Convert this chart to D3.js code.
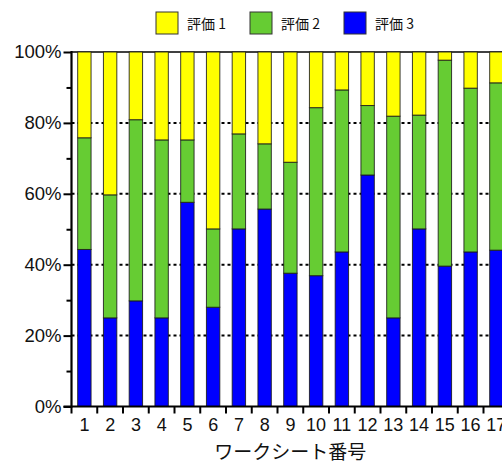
<!DOCTYPE html>
<html>
<head>
<meta charset="utf-8">
<script src="https://cdn.jsdelivr.net/npm/d3@7"></script>
<style>
  html, body { margin: 0; padding: 0; background: #fff; }
  svg { display: block; }
  text { font-family: "Liberation Sans", Arial, "Noto Sans CJK JP", sans-serif; fill: #111; }
  .jp { font-family: "Noto Sans CJK JP", "Liberation Sans", sans-serif; }
</style>
</head>
<body>
<svg id="chart" width="502" height="463"></svg>
<script>
// Worksheet numbers and the share (%) of each rating
const categories = ["1","2","3","4","5","6","7","8","9","10","11","12","13","14","15","16","17"];
const rating1 = [24.2, 40.3, 19.1, 24.8, 24.8, 49.9, 23.1, 25.9, 31.1, 15.7, 10.7, 15.1, 18.1, 17.8, 2.3, 10.2, 8.7];
const rating2 = [31.5, 34.7, 51.1, 50.2, 17.6, 22.1, 26.8, 18.4, 31.3, 47.4, 45.7, 19.6, 56.9, 32.1, 58.1, 46.2, 47.2];
const rating3 = [44.3, 25.0, 29.8, 25.0, 57.6, 28.0, 50.1, 55.7, 37.6, 36.9, 43.6, 65.3, 25.0, 50.1, 39.6, 43.6, 44.1];
const seriesNames = ["評価 1", "評価 2", "評価 3"];
const yTicks = [0, 20, 40, 60, 80, 100];
const yMinorTicks = [10, 30, 50, 70, 90];
const xTitle = "ワークシート番号";

const colors = { "評価 1": "#ffff00", "評価 2": "#66cc33", "評価 3": "#0000ff" };

const svg = d3.select("#chart");
const plotLeft = 71.5, plotTop = 52, plotBottom = 406.5, step = 25.75;

const rows = categories.map((c, i) => ({
  cat: c,
  "評価 1": rating1[i],
  "評価 2": rating2[i],
  "評価 3": rating3[i]
}));

const x = d3.scaleBand()
  .domain(categories)
  .range([plotLeft, plotLeft + categories.length * step])
  .paddingInner(0.48)
  .paddingOuter(0.24);

const y = d3.scaleLinear().domain([0, 100]).range([plotBottom, plotTop]);

// dotted gridlines
svg.append("g")
  .selectAll("line")
  .data([20, 40, 60, 80])
  .join("line")
  .attr("x1", plotLeft).attr("x2", 502)
  .attr("y1", d => y(d)).attr("y2", d => y(d))
  .attr("stroke", "#000")
  .attr("stroke-width", 2)
  .attr("stroke-dasharray", "3,3");

// solid top frame line at 100%
svg.append("line")
  .attr("x1", plotLeft).attr("x2", 502)
  .attr("y1", y(100)).attr("y2", y(100))
  .attr("stroke", "#000").attr("stroke-width", 1.5);

// stacked bars: 評価 3 at the bottom, 評価 1 on top
const stack = d3.stack().keys(["評価 3", "評価 2", "評価 1"]);
const layers = stack(rows);

svg.append("g")
  .selectAll("g")
  .data(layers)
  .join("g")
  .attr("fill", d => colors[d.key])
  .selectAll("rect")
  .data(d => d)
  .join("rect")
  .attr("x", d => x(d.data.cat))
  .attr("width", x.bandwidth())
  .attr("y", d => y(d[1]))
  .attr("height", d => y(d[0]) - y(d[1]))
  .attr("stroke", "#1a1a1a")
  .attr("stroke-opacity", 0.85)
  .attr("stroke-width", 1);

// y axis: major ticks with labels, minor ticks without
const yAxis = svg.append("g")
  .attr("transform", `translate(${plotLeft},0)`)
  .call(d3.axisLeft(y).tickValues(yTicks).tickSize(8).tickPadding(2).tickFormat(d => d + "%"));
yAxis.select(".domain").remove();
yAxis.selectAll("line").attr("stroke", "#000").attr("stroke-width", 2);
yAxis.selectAll("text").attr("font-size", 18.5).style("fill", "#111");

const yMinor = svg.append("g")
  .attr("transform", `translate(${plotLeft},0)`)
  .call(d3.axisLeft(y).tickValues(yMinorTicks).tickSize(5).tickFormat(""));
yMinor.select(".domain").remove();
yMinor.selectAll("line").attr("stroke", "#000").attr("stroke-width", 2);

svg.append("line")
  .attr("x1", plotLeft).attr("x2", plotLeft)
  .attr("y1", y(100) - 1).attr("y2", y(0) + 1)
  .attr("stroke", "#000").attr("stroke-width", 2.2);

// x axis: labels centred on bars, ticks on category boundaries
const xAxis = svg.append("g")
  .attr("transform", `translate(0,${plotBottom})`)
  .call(d3.axisBottom(x).tickSize(0).tickPadding(12));
xAxis.select(".domain").remove();
xAxis.selectAll("text").attr("font-size", 18).style("fill", "#111");

const boundaries = categories.map(c => x(c) - x.step() * x.paddingOuter())
  .concat([x.range()[1]]);
svg.append("g")
  .selectAll("line")
  .data(boundaries)
  .join("line")
  .attr("x1", d => d).attr("x2", d => d)
  .attr("y1", plotBottom).attr("y2", plotBottom + 7)
  .attr("stroke", "#000").attr("stroke-width", 2);

svg.append("line")
  .attr("x1", plotLeft - 8).attr("x2", 502)
  .attr("y1", plotBottom).attr("y2", plotBottom)
  .attr("stroke", "#000").attr("stroke-width", 2.2);

// axis title
svg.append("text")
  .attr("class", "jp")
  .attr("x", (x.range()[0] + x.range()[1]) / 2)
  .attr("y", 459)
  .attr("text-anchor", "middle")
  .attr("font-size", 19)
  .text(xTitle);

// legend
const legendX = [156, 250, 344];
const legend = svg.append("g")
  .selectAll("g")
  .data(seriesNames)
  .join("g")
  .attr("transform", (d, i) => `translate(${legendX[i]},12)`);
legend.append("rect")
  .attr("width", 22).attr("height", 22)
  .attr("fill", d => colors[d])
  .attr("stroke", "#333").attr("stroke-width", 1);
legend.append("text")
  .attr("class", "jp")
  .attr("x", 31).attr("y", 16.5)
  .attr("font-size", 14)
  .text(d => d);
</script>
</body>
</html>
